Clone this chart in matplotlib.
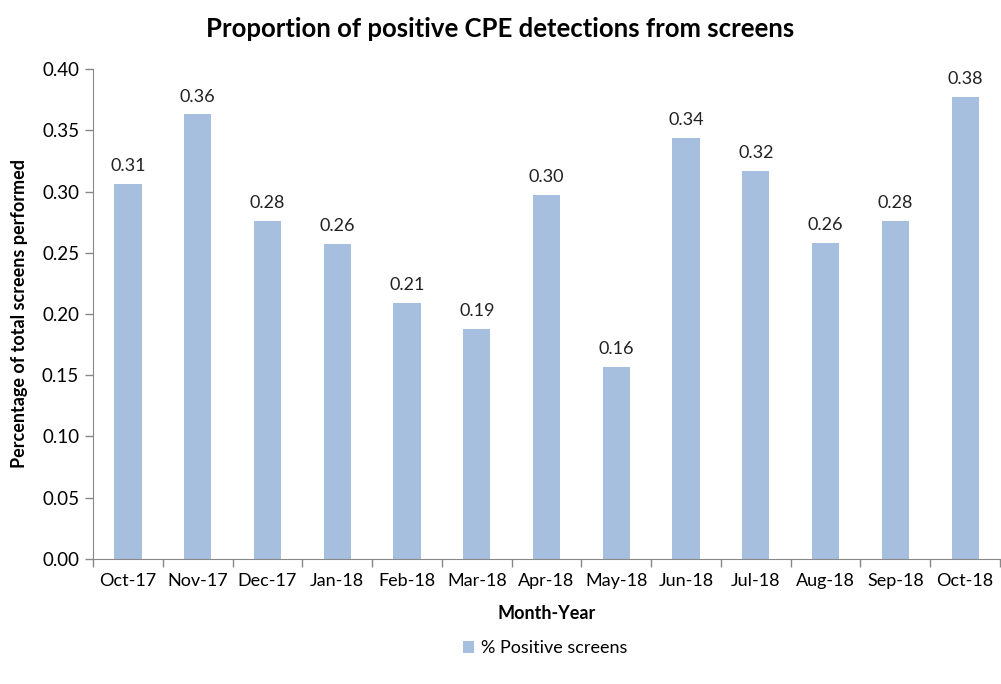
import matplotlib
matplotlib.use("Agg")
import matplotlib.pyplot as plt
import numpy as np

months = ["Oct-17", "Nov-17", "Dec-17", "Jan-18", "Feb-18", "Mar-18", "Apr-18",
          "May-18", "Jun-18", "Jul-18", "Aug-18", "Sep-18", "Oct-18"]
positive = [0.306, 0.363, 0.276, 0.257, 0.209, 0.188, 0.297,
            0.157, 0.344, 0.317, 0.258, 0.276, 0.377]

plt.rcParams['font.family'] = ['Lato', 'DejaVu Sans']

fig = plt.figure(figsize=(10.01, 6.84), dpi=100)
ax = fig.add_axes([0.093, 0.183, 0.906, 0.716])

x = np.arange(len(months))
bars = ax.bar(x, positive, width=0.39, color="#A7BFDE", label="% Positive screens")

# value labels above bars
for xi, v in zip(x, positive):
    ax.text(xi, v + 0.008, f"{v:.2f}", ha="center", va="bottom", fontsize=13, color="#222222")

ax.set_xlim(-0.5, len(months) - 0.5)
ax.set_ylim(0, 0.40)
ax.set_yticks(np.arange(0, 0.401, 0.05))
ax.set_yticklabels([f"{t:.2f}" for t in np.arange(0, 0.401, 0.05)], fontsize=13.5)

# category labels centred, ticks between categories
ax.set_xticks(x)
ax.set_xticklabels(months, fontsize=13)
ax.tick_params(axis="x", which="major", length=0, pad=10)
ax.set_xticks(np.arange(-0.5, len(months), 1), minor=True)
ax.tick_params(axis="x", which="minor", length=6, color="#888888", width=1)
ax.tick_params(axis="y", length=6, color="#888888", width=1, pad=4)

for s in ["top", "right"]:
    ax.spines[s].set_visible(False)
for s in ["left", "bottom"]:
    ax.spines[s].set_color("#888888")

ax.set_xlabel("Month-Year", fontsize=13, fontweight="bold", labelpad=12)
ax.set_ylabel("Percentage of total screens performed", fontsize=13, fontweight="bold", labelpad=10)
fig.suptitle("Proportion of positive CPE detections from screens", fontsize=18.5,
             fontweight="bold", y=0.975)

fig.legend(handles=[bars], labels=["% Positive screens"], loc="center",
           bbox_to_anchor=(0.545, 0.052), frameon=False, fontsize=13,
           handlelength=0.6, handleheight=0.6, handletextpad=0.4)

fig.savefig("out.png", dpi=100)
